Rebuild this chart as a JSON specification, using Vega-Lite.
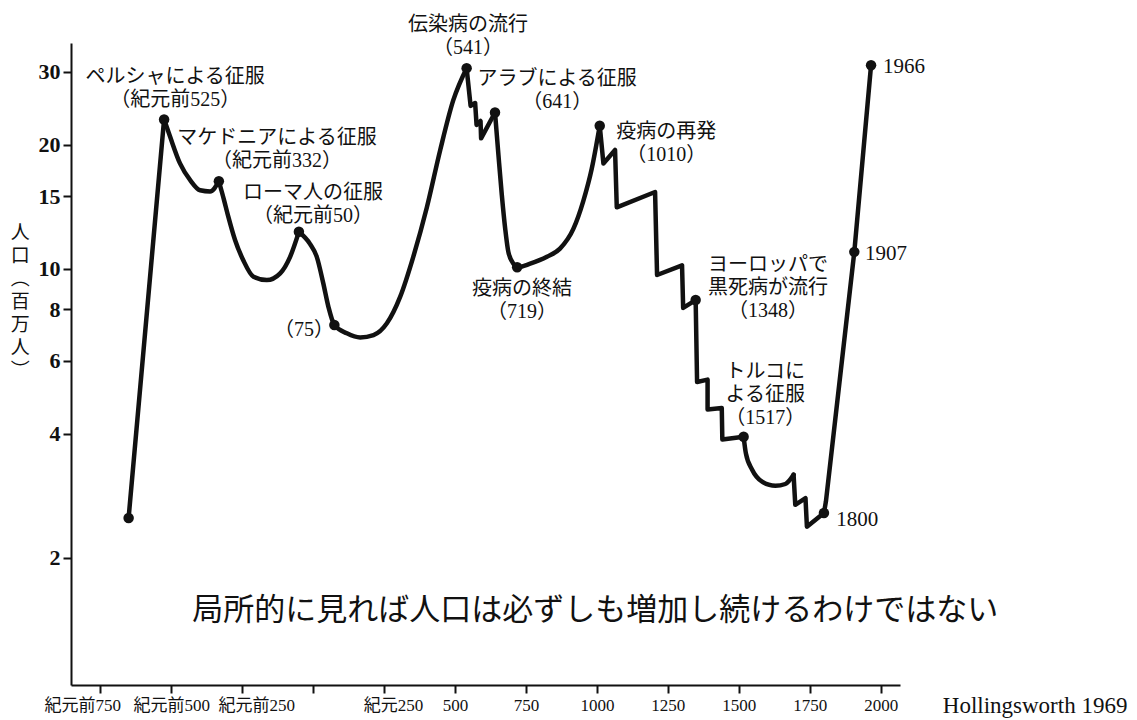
{
  "$schema": "https://vega.github.io/schema/vega-lite/v6.json",
  "autosize": {"type": "none"},
  "padding": {"left": 71, "top": 43, "right": 237, "bottom": 35},
  "width": 829,
  "height": 642,
  "background": "white",
  "config": {"view": {"stroke": null}},
  "datasets": {
    "pts": [
      {"seg": 1, "i": 1, "year": -650, "pop": 2.5, "ev": 1},
      {"seg": 1, "i": 2, "year": -525, "pop": 23.0, "ev": 0},
      {"seg": 2, "i": 2, "year": -525, "pop": 23.0, "ev": 1},
      {"seg": 2, "i": 3, "year": -504, "pop": 20.9, "ev": 0},
      {"seg": 2, "i": 4, "year": -469, "pop": 18.0, "ev": 0},
      {"seg": 2, "i": 5, "year": -433, "pop": 16.4, "ev": 0},
      {"seg": 2, "i": 6, "year": -398, "pop": 15.5, "ev": 0},
      {"seg": 2, "i": 7, "year": -363, "pop": 15.4, "ev": 0},
      {"seg": 2, "i": 8, "year": -332, "pop": 16.3, "ev": 1},
      {"seg": 3, "i": 8, "year": -332, "pop": 16.3, "ev": 0},
      {"seg": 3, "i": 9, "year": -314, "pop": 14.7, "ev": 0},
      {"seg": 3, "i": 10, "year": -299, "pop": 13.4, "ev": 0},
      {"seg": 3, "i": 11, "year": -275, "pop": 11.75, "ev": 0},
      {"seg": 3, "i": 12, "year": -246, "pop": 10.5, "ev": 0},
      {"seg": 3, "i": 13, "year": -210, "pop": 9.58, "ev": 0},
      {"seg": 3, "i": 14, "year": -163, "pop": 9.4, "ev": 0},
      {"seg": 3, "i": 15, "year": -116, "pop": 9.76, "ev": 0},
      {"seg": 3, "i": 16, "year": -81, "pop": 10.7, "ev": 0},
      {"seg": 3, "i": 17, "year": -50, "pop": 12.3, "ev": 1},
      {"seg": 4, "i": 17, "year": -50, "pop": 12.3, "ev": 0},
      {"seg": 4, "i": 18, "year": -11, "pop": 11.5, "ev": 0},
      {"seg": 4, "i": 19, "year": 13, "pop": 10.7, "ev": 0},
      {"seg": 4, "i": 20, "year": 36, "pop": 9.23, "ev": 0},
      {"seg": 4, "i": 21, "year": 54, "pop": 8.1, "ev": 0},
      {"seg": 4, "i": 22, "year": 75, "pop": 7.32, "ev": 1},
      {"seg": 4, "i": 23, "year": 119, "pop": 6.99, "ev": 0},
      {"seg": 4, "i": 24, "year": 166, "pop": 6.83, "ev": 0},
      {"seg": 4, "i": 25, "year": 213, "pop": 6.92, "ev": 0},
      {"seg": 4, "i": 26, "year": 260, "pop": 7.39, "ev": 0},
      {"seg": 4, "i": 27, "year": 307, "pop": 8.57, "ev": 0},
      {"seg": 4, "i": 28, "year": 353, "pop": 10.7, "ev": 0},
      {"seg": 4, "i": 29, "year": 401, "pop": 14.1, "ev": 0},
      {"seg": 4, "i": 30, "year": 448, "pop": 19.4, "ev": 0},
      {"seg": 4, "i": 31, "year": 494, "pop": 25.6, "ev": 0},
      {"seg": 4, "i": 32, "year": 541, "pop": 30.6, "ev": 1},
      {"seg": 5, "i": 32, "year": 541, "pop": 30.6, "ev": 0},
      {"seg": 5, "i": 33, "year": 555, "pop": 24.8, "ev": 0},
      {"seg": 5, "i": 34, "year": 571, "pop": 25.2, "ev": 0},
      {"seg": 5, "i": 35, "year": 576, "pop": 22.3, "ev": 0},
      {"seg": 5, "i": 36, "year": 590, "pop": 22.8, "ev": 0},
      {"seg": 5, "i": 37, "year": 592, "pop": 20.7, "ev": 0},
      {"seg": 5, "i": 38, "year": 641, "pop": 23.9, "ev": 1},
      {"seg": 6, "i": 38, "year": 641, "pop": 23.9, "ev": 0},
      {"seg": 6, "i": 39, "year": 653, "pop": 18.9, "ev": 0},
      {"seg": 6, "i": 40, "year": 665, "pop": 15.1, "ev": 0},
      {"seg": 6, "i": 41, "year": 677, "pop": 12.5, "ev": 0},
      {"seg": 6, "i": 42, "year": 688, "pop": 11.0, "ev": 0},
      {"seg": 6, "i": 43, "year": 706, "pop": 10.3, "ev": 0},
      {"seg": 6, "i": 44, "year": 719, "pop": 10.1, "ev": 1},
      {"seg": 6, "i": 45, "year": 765, "pop": 10.3, "ev": 0},
      {"seg": 6, "i": 46, "year": 824, "pop": 10.7, "ev": 0},
      {"seg": 6, "i": 47, "year": 870, "pop": 11.2, "ev": 0},
      {"seg": 6, "i": 48, "year": 917, "pop": 12.5, "ev": 0},
      {"seg": 6, "i": 49, "year": 952, "pop": 14.6, "ev": 0},
      {"seg": 6, "i": 50, "year": 982, "pop": 17.5, "ev": 0},
      {"seg": 6, "i": 51, "year": 1010, "pop": 22.2, "ev": 1},
      {"seg": 7, "i": 51, "year": 1010, "pop": 22.2, "ev": 0},
      {"seg": 7, "i": 52, "year": 1023, "pop": 18.0, "ev": 0},
      {"seg": 7, "i": 53, "year": 1064, "pop": 19.4, "ev": 0},
      {"seg": 7, "i": 54, "year": 1070, "pop": 14.1, "ev": 0},
      {"seg": 7, "i": 55, "year": 1205, "pop": 15.35, "ev": 0},
      {"seg": 7, "i": 56, "year": 1212, "pop": 9.67, "ev": 0},
      {"seg": 7, "i": 57, "year": 1300, "pop": 10.2, "ev": 0},
      {"seg": 7, "i": 58, "year": 1304, "pop": 8.05, "ev": 0},
      {"seg": 7, "i": 59, "year": 1348, "pop": 8.41, "ev": 1},
      {"seg": 7, "i": 60, "year": 1353, "pop": 5.33, "ev": 0},
      {"seg": 7, "i": 61, "year": 1390, "pop": 5.4, "ev": 0},
      {"seg": 7, "i": 62, "year": 1390, "pop": 4.57, "ev": 0},
      {"seg": 7, "i": 63, "year": 1440, "pop": 4.61, "ev": 0},
      {"seg": 7, "i": 64, "year": 1442, "pop": 3.87, "ev": 0},
      {"seg": 7, "i": 65, "year": 1517, "pop": 3.93, "ev": 1},
      {"seg": 8, "i": 65, "year": 1517, "pop": 3.93, "ev": 0},
      {"seg": 8, "i": 66, "year": 1525, "pop": 3.58, "ev": 0},
      {"seg": 8, "i": 67, "year": 1547, "pop": 3.27, "ev": 0},
      {"seg": 8, "i": 68, "year": 1582, "pop": 3.06, "ev": 0},
      {"seg": 8, "i": 69, "year": 1629, "pop": 2.99, "ev": 0},
      {"seg": 8, "i": 70, "year": 1664, "pop": 3.02, "ev": 0},
      {"seg": 8, "i": 71, "year": 1693, "pop": 3.18, "ev": 0},
      {"seg": 9, "i": 71, "year": 1693, "pop": 3.18, "ev": 0},
      {"seg": 9, "i": 72, "year": 1699, "pop": 2.69, "ev": 0},
      {"seg": 9, "i": 73, "year": 1735, "pop": 2.79, "ev": 0},
      {"seg": 9, "i": 74, "year": 1740, "pop": 2.38, "ev": 0},
      {"seg": 9, "i": 75, "year": 1800, "pop": 2.57, "ev": 1},
      {"seg": 9, "i": 76, "year": 1807, "pop": 2.74, "ev": 0},
      {"seg": 9, "i": 77, "year": 1907, "pop": 11.0, "ev": 1},
      {"seg": 9, "i": 78, "year": 1966, "pop": 31.1, "ev": 1}
    ],
    "jp": [
      {"year": -486, "pop": 30.8, "t": "ペルシャによる征服\n（紀元前525）"},
      {"year": -127, "pop": 21.9, "t": "マケドニアによる征服\n（紀元前332）"},
      {"year": 0, "pop": 16.1, "t": "ローマ人の征服\n（紀元前50）"},
      {"year": -32, "pop": 7.53, "t": "（75）"},
      {"year": 546, "pop": 41.1, "t": "伝染病の流行\n（541）"},
      {"year": 860, "pop": 30.5, "t": "アラブによる征服\n（641）"},
      {"year": 1244, "pop": 22.7, "t": "疫病の再発\n（1010）"},
      {"year": 736, "pop": 9.47, "t": "疫病の終結\n（719）"},
      {"year": 1603, "pop": 10.8, "t": "ヨーロッパで\n黒死病が流行\n（1348）"},
      {"year": 1593, "pop": 5.96, "t": "トルコに\nよる征服\n（1517）"}
    ],
    "yr": [
      {"year": 1843, "pop": 2.63, "t": "1800"},
      {"year": 1945, "pop": 11.57, "t": "1907"},
      {"year": 2008, "pop": 32.7, "t": "1966"}
    ]
  },
  "encoding": {
    "x": {
      "field": "year",
      "type": "quantitative",
      "scale": {"type": "linear", "domain": [-853, 2068], "nice": false, "zero": false},
      "axis": {
        "values": [-750, -500, -250, 0, 250, 500, 750, 1000, 1250, 1500, 1750, 2000],
        "labelExpr": "datum.value < 0 ? '紀元前' + (-datum.value) : datum.value == 0 ? '' : datum.value == 250 ? '紀元250' : '' + datum.value",
        "labelOffset": {"condition": [
          {"test": "datum.value == -750", "value": -18},
          {"test": "datum.value == -250", "value": 14},
          {"test": "datum.value == 250", "value": 9}
        ], "value": 0},
        "title": null,
        "grid": false,
        "domainColor": "#111",
        "domainWidth": 2,
        "tickColor": "#111",
        "tickWidth": 2,
        "tickSize": 8,
        "labelFont": "Liberation Serif, Noto Sans CJK JP",
        "labelFontSize": 17,
        "labelColor": "#111",
        "labelPadding": 4,
        "labelFlush": false,
        "labelOverlap": false
      }
    },
    "y": {
      "field": "pop",
      "type": "quantitative",
      "scale": {"type": "log", "domain": [0.986, 35.2], "nice": false},
      "axis": {
        "values": [2, 4, 6, 8, 10, 15, 20, 30],
        "labelExpr": "'' + datum.value",
        "grid": false,
        "domainColor": "#111",
        "domainWidth": 2,
        "tickColor": "#111",
        "tickWidth": 2,
        "tickSize": 8,
        "labelFont": "Liberation Serif",
        "labelFontSize": 22,
        "labelFontWeight": "bold",
        "labelColor": "#111",
        "labelPadding": 3,
        "title": null
      }
    }
  },
  "layer": [
    {
      "data": {"name": "pts"},
      "transform": [{"filter": "indexof([2, 3, 4, 6, 8], datum.seg) >= 0"}],
      "mark": {"type": "line", "color": "#111", "strokeWidth": 4.5, "strokeJoin": "round", "strokeCap": "round", "interpolate": "monotone"},
      "encoding": {"order": {"field": "i", "type": "quantitative"}, "detail": {"field": "seg", "type": "nominal"}}
    },
    {
      "data": {"name": "pts"},
      "transform": [{"filter": "indexof([1, 5, 7, 9], datum.seg) >= 0"}],
      "mark": {"type": "line", "color": "#111", "strokeWidth": 4.5, "strokeJoin": "round", "strokeCap": "round"},
      "encoding": {"order": {"field": "i", "type": "quantitative"}, "detail": {"field": "seg", "type": "nominal"}}
    },
    {
      "data": {"name": "pts"},
      "transform": [{"filter": "datum.ev == 1"}],
      "mark": {"type": "circle", "color": "#111", "size": 110, "opacity": 1}
    },
    {
      "data": {"values": [{"year": -1032, "pop": 12.85, "t": "人\n口\n︵\n百\n万\n人\n︶"}]},
      "mark": {"type": "text", "align": "center", "baseline": "top", "lineBreak": "\n", "lineHeight": 23, "font": "Noto Sans CJK JP", "fontSize": 19, "color": "#111"},
      "encoding": {"text": {"field": "t", "type": "nominal"}}
    },
    {
      "data": {"name": "jp"},
      "mark": {"type": "text", "align": "center", "baseline": "top", "lineBreak": "\n", "lineHeight": 23, "font": "Liberation Serif, Noto Sans CJK JP", "fontSize": 20, "color": "#111"},
      "encoding": {"text": {"field": "t", "type": "nominal"}}
    },
    {
      "data": {"name": "yr"},
      "mark": {"type": "text", "align": "left", "baseline": "top", "font": "Liberation Serif", "fontSize": 21, "color": "#111"},
      "encoding": {"text": {"field": "t", "type": "nominal"}}
    },
    {
      "data": {"values": [{"year": 994, "pop": 1.485, "t": "局所的に見れば人口は必ずしも増加し続けるわけではない"}]},
      "mark": {"type": "text", "align": "center", "baseline": "middle", "font": "Noto Sans CJK JP", "fontSize": 31, "color": "#111"},
      "encoding": {"text": {"field": "t", "type": "nominal"}}
    },
    {
      "data": {"values": [{"year": 2544, "pop": 0.877, "t": "Hollingsworth 1969"}]},
      "mark": {"type": "text", "align": "center", "baseline": "middle", "font": "Liberation Serif", "fontSize": 23, "color": "#111"},
      "encoding": {"text": {"field": "t", "type": "nominal"}}
    }
  ]
}
